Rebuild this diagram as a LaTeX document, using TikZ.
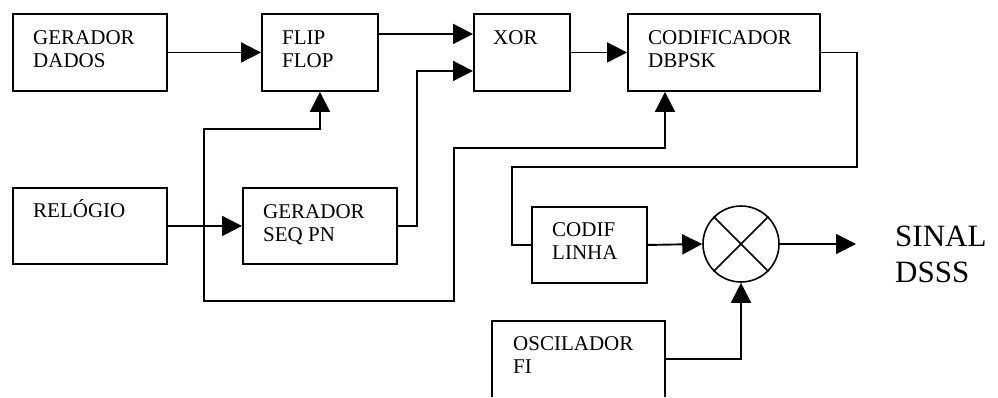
\documentclass[tikz,border=0pt]{standalone}
\usepackage{fontspec}
\setmainfont{Liberation Serif}
\usetikzlibrary{arrows.meta,calc}

% two-line labels whose reference point is the first baseline
\newcommand\lines[1]{\begin{tabular}[t]{@{}l@{}}#1\end{tabular}}
\newcommand\boxfont{\fontsize{21}{23}\selectfont}
\newcommand\bigfont{\fontsize{31}{36}\selectfont}

\tikzset{
  blk/.style={draw, line width=1.9pt, rectangle, inner sep=0pt, anchor=north west},
  lbl/.style={anchor=base west, inner sep=0pt, font=\boxfont},
  wire/.style={line width=1.9pt},
  arr/.style={wire, -{Triangle[length=20pt,width=20pt]}},
}

\begin{document}
\begin{tikzpicture}[x=1pt, y=-1pt]
  \fill[white] (0,0) rectangle (998,397);
  \useasboundingbox (0,0) rectangle (998,397);

  % blocks
  \node[blk, minimum width=154pt, minimum height=77pt] (gd) at (12,13) {};
  \node[blk, minimum width=116pt, minimum height=77pt] (ff) at (261,13) {};
  \node[blk, minimum width=96pt,  minimum height=77pt] (xr) at (473,13) {};
  \node[blk, minimum width=192pt, minimum height=77pt] (cd) at (627,13) {};
  \node[blk, minimum width=154pt, minimum height=76pt] (rl) at (12,187) {};
  \node[blk, minimum width=154pt, minimum height=76pt] (gs) at (242,187) {};
  \node[blk, minimum width=115pt, minimum height=76pt] (cl) at (531,206) {};
  \node[rectangle, inner sep=0pt, anchor=north west,
        minimum width=173pt, minimum height=76pt] (os) at (492,321) {};
  \draw[wire] (os.south west) -- (os.north west) -- (os.north east) -- (os.south east);

  % block labels
  \node[lbl] (gdt) at ($(gd.north west)+(21,31)$) {\lines{GERADOR\\DADOS}};
  \node[lbl] (fft) at ($(ff.north west)+(21,31)$) {\lines{FLIP\\FLOP}};
  \node[lbl] (xrt) at ($(xr.north west)+(20,31)$) {XOR};
  \node[lbl] (cdt) at ($(cd.north west)+(21,31)$) {\lines{CODIFICADOR\\DBPSK}};
  \node[lbl] (rlt) at ($(rl.north west)+(21,30)$) {RELÓGIO};
  \node[lbl] (gst) at ($(gs.north west)+(21,31)$) {\lines{GERADOR\\SEQ PN}};
  \node[lbl] (clt) at ($(cl.north west)+(21,30)$) {\lines{CODIF\\LINHA}};
  \node[lbl] (ost) at ($(os.north west)+(21,29)$) {\lines{OSCILADOR\\FI}};

  % mixer
  \node[draw, circle, line width=1.6pt, minimum size=76pt, inner sep=0pt] (mx) at (741,244) {};
  \draw[line width=1.6pt] (mx.north west) -- (mx.south east)
                          (mx.north east) -- (mx.south west);

  % output
  \coordinate (oe) at (856,244);
  \node[anchor=base west, inner sep=0pt, font=\bigfont] (out) at (895,246) {\lines{SINAL\\DSSS}};

  % connections
  \coordinate (tap) at (204,225);
  \draw[arr] (gd.east) -- (ff.west);
  \draw[arr] ([yshift=18.5pt]ff.east) -- ([yshift=18.5pt]xr.west);
  \draw[arr] (gs.east) -- ++(19,0) |- ([yshift=-18.5pt]xr.west);
  \draw[arr] (xr.east) -- (cd.west);
  \draw[arr] (rl.east) -- (gs.west);
  \draw[arr] (tap) -- (tap |- 0,129) -| (ff.south);
  \draw[arr] (tap) -- (tap |- 0,301) -| (454,148) -| ([xshift=38pt]cd.south west);
  \draw[wire] (cd.east) -| (857,167) -| ([xshift=-19pt]cl.west) -- (cl.west);
  \draw[arr] (cl.east) -- (mx.west);
  \draw[arr] (os.east) -| (mx.south);
  \draw[arr] (mx.east) -- (oe);
\end{tikzpicture}
\end{document}
